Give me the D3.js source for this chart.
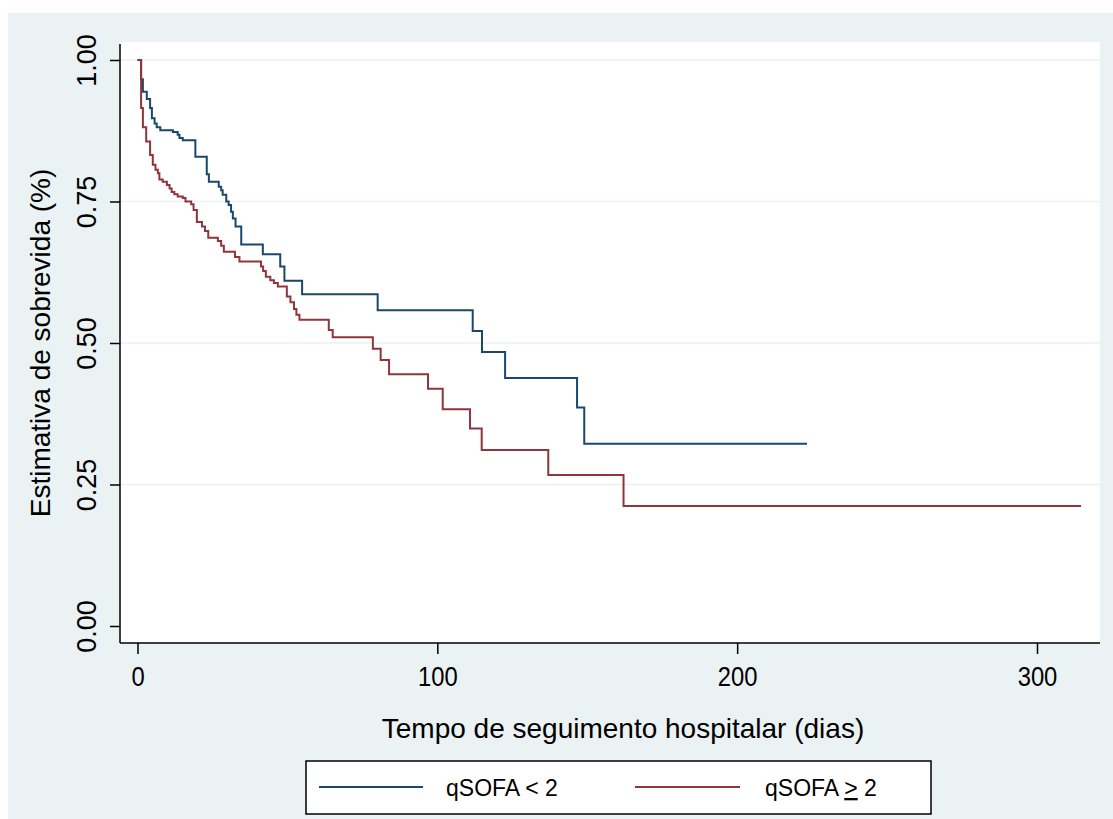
<!DOCTYPE html>
<html>
<head>
<meta charset="utf-8">
<script src="https://cdn.jsdelivr.net/npm/d3@7"></script>
<style>
  html, body { margin: 0; padding: 0; background: #ffffff; }
  svg { display: block; font-family: "Liberation Sans", Arial, sans-serif; }
</style>
</head>
<body>
<svg id="chart" width="1113" height="819"></svg>
<script>
// ---- Data (Kaplan-Meier step estimates) ----
const seriesNames = ["qSOFA < 2", "qSOFA \u2265 2"];

// qSOFA < 2 : time of each step (days) and survival after it
const lowTimes = [0, 1.2, 1.8, 3.1, 4.2, 4.8, 5.7, 6.4, 7.6, 11.8, 13.4, 14.0, 15.1, 19.3,
  23.1, 23.8, 27.1, 27.9, 28.4, 29.6, 30.4, 31.2, 31.8, 32.7, 34.6, 41.8, 47.6, 49.0, 54.9,
  80.1, 111.8, 114.9, 122.6, 146.6, 149.0];
const lowSurv = [1, 0.966, 0.944, 0.931, 0.915, 0.897, 0.888, 0.881, 0.876, 0.873, 0.868, 0.862, 0.858, 0.829,
  0.798, 0.785, 0.776, 0.770, 0.762, 0.750, 0.744, 0.732, 0.720, 0.706, 0.674, 0.657, 0.635, 0.610, 0.586,
  0.558, 0.521, 0.484, 0.438, 0.386, 0.322];
const lowEnd = 223.3;

// qSOFA >= 2
const highTimes = [0, 1.2, 1.8, 2.9, 4.2, 5.1, 6.0, 6.8, 7.3, 8.4, 9.8, 10.7, 11.4, 12.3, 13.4, 15.1,
  16.0, 17.9, 18.7, 19.8, 21.5, 22.5, 23.6, 26.8, 27.9, 28.8, 32.5, 34.0, 41.2, 41.9, 42.8, 44.3,
  45.5, 46.8, 49.8, 51.0, 52.2, 53.0, 54.0, 63.8, 65.1, 78.5, 81.1, 83.9, 96.9, 101.8, 110.9,
  114.8, 137.0, 162.1];
const highSurv = [1, 0.915, 0.881, 0.856, 0.832, 0.815, 0.806, 0.800, 0.789, 0.785, 0.779, 0.773, 0.767, 0.763, 0.759, 0.756,
  0.750, 0.745, 0.735, 0.714, 0.706, 0.698, 0.686, 0.680, 0.672, 0.661, 0.652, 0.644, 0.635, 0.627, 0.617, 0.611,
  0.606, 0.600, 0.582, 0.572, 0.560, 0.550, 0.541, 0.523, 0.510, 0.490, 0.470, 0.445, 0.419, 0.383, 0.349,
  0.311, 0.267, 0.212];
const highEnd = 314.7;

const xTicks = [0, 100, 200, 300];
const yTicks = [0, 0.25, 0.5, 0.75, 1];
const xTitle = "Tempo de seguimento hospitalar (dias)";
const yTitle = "Estimativa de sobrevida (%)";

// ---- Layout ----
const svg = d3.select("#chart");
const bg = "#eaf2f3";
const colors = ["#1a476f", "#90353b"];

const plot = { left: 120, right: 1100, top: 42, bottom: 643 };
const x = d3.scaleLinear().domain([0, 300]).range([137.5, 1037]);
const y = d3.scaleLinear().domain([0, 1]).range([626, 60]);

svg.append("rect").attr("x", 8).attr("y", 13).attr("width", 1105).attr("height", 806).attr("fill", bg);
svg.append("rect").attr("x", plot.left).attr("y", plot.top)
  .attr("width", plot.right - plot.left).attr("height", plot.bottom - plot.top).attr("fill", "#ffffff");

// gridlines
svg.append("g").selectAll("line").data(yTicks.filter(d => d > 0)).join("line")
  .attr("x1", plot.left).attr("x2", plot.right)
  .attr("y1", d => y(d)).attr("y2", d => y(d))
  .attr("stroke", bg).attr("stroke-width", 1.5);

// curves
function stepData(times, surv, end) {
  const pts = times.map((t, i) => [t, surv[i]]);
  pts.push([end, surv[surv.length - 1]]);
  return pts;
}
const line = d3.line().x(d => x(d[0])).y(d => y(d[1])).curve(d3.curveStepAfter);
const series = [stepData(lowTimes, lowSurv, lowEnd), stepData(highTimes, highSurv, highEnd)];
svg.append("g").selectAll("path").data(series).join("path")
  .attr("d", line).attr("fill", "none")
  .attr("stroke", (d, i) => colors[i]).attr("stroke-width", 2)
  .attr("stroke-linejoin", "miter");

// y axis
const yAxis = svg.append("g").attr("transform", `translate(${plot.left},0)`)
  .call(d3.axisLeft(y).tickValues(yTicks).tickFormat(d3.format(".2f")).tickSize(10).tickPadding(0));
yAxis.select(".domain").remove();
yAxis.selectAll(".tick line").attr("stroke", "#000").attr("stroke-width", 1.5);
yAxis.selectAll(".tick text")
  .attr("x", null).attr("dy", null)
  .attr("transform", "translate(-24,0) rotate(-90)")
  .attr("text-anchor", "middle")
  .attr("font-size", 27).attr("font-family", "Liberation Sans, Arial, sans-serif")
  .attr("fill", "#000");

// x axis
const xAxis = svg.append("g").attr("transform", `translate(0,${plot.bottom})`)
  .call(d3.axisBottom(x).tickValues(xTicks).tickFormat(d3.format("d")).tickSize(11).tickPadding(0));
xAxis.select(".domain").remove();
xAxis.selectAll(".tick line").attr("stroke", "#000").attr("stroke-width", 1.5);
xAxis.selectAll(".tick text")
  .attr("y", null).attr("dy", null)
  .attr("transform", "translate(0,43) scale(0.85,1)")
  .attr("text-anchor", "middle")
  .attr("font-size", 28).attr("font-family", "Liberation Sans, Arial, sans-serif")
  .attr("fill", "#000");

// axis frame lines
svg.append("line").attr("x1", plot.left).attr("x2", plot.left).attr("y1", 44).attr("y2", plot.bottom)
  .attr("stroke", "#000").attr("stroke-width", 1.5);
svg.append("line").attr("x1", plot.left).attr("x2", plot.right).attr("y1", plot.bottom).attr("y2", plot.bottom)
  .attr("stroke", "#000").attr("stroke-width", 1.5);

// titles
svg.append("text").attr("x", 623).attr("y", 738).attr("text-anchor", "middle")
  .attr("font-size", 28).attr("fill", "#000").text(xTitle);
svg.append("text").attr("transform", "translate(50,343) rotate(-90)").attr("text-anchor", "middle")
  .attr("font-size", 28).attr("fill", "#000").text(yTitle);

// legend
const lg = svg.append("g");
lg.append("rect").attr("x", 306).attr("y", 761).attr("width", 625).attr("height", 53)
  .attr("fill", "#fff").attr("stroke", "#000").attr("stroke-width", 1.5);
const legendItems = [
  { x1: 319, x2: 423, tx: 446 },
  { x1: 635, x2: 740, tx: 765 }
];
legendItems.forEach((it, i) => {
  lg.append("line").attr("x1", it.x1).attr("x2", it.x2).attr("y1", 787).attr("y2", 787)
    .attr("stroke", colors[i]).attr("stroke-width", 2);
});
lg.append("text").attr("x", legendItems[0].tx).attr("y", 796).attr("font-size", 23).attr("fill", "#000")
  .text(seriesNames[0]);
const t2 = lg.append("text").attr("x", legendItems[1].tx).attr("y", 796).attr("font-size", 23).attr("fill", "#000");
t2.append("tspan").text("qSOFA ");
t2.append("tspan").attr("text-decoration", "underline").text(">");
t2.append("tspan").text(" 2");
</script>
</body>
</html>
